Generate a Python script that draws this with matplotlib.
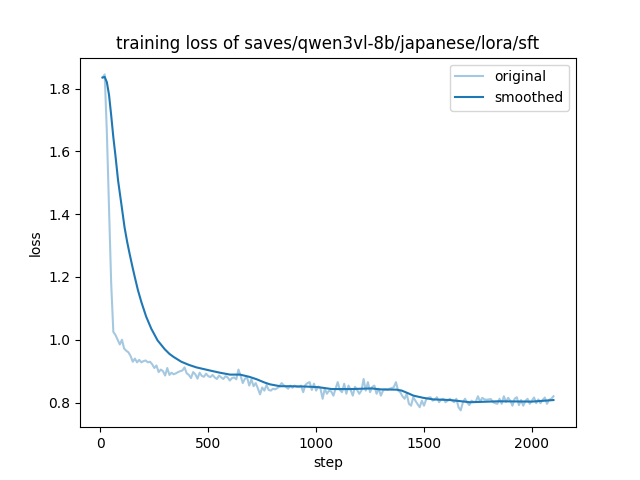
import matplotlib
matplotlib.use("Agg")
import matplotlib.pyplot as plt

title = "training loss of saves/qwen3vl-8b/japanese/lora/sft"

# logged every 10 steps
steps = list(range(10, 2110, 10))

original = [
    1.835, 1.845, 1.66, 1.42, 1.18, 1.025, 1.015, 1.00, 0.985, 1.00,
    0.972, 0.965, 0.96, 0.948, 0.93, 0.94, 0.928, 0.936, 0.928, 0.932,
    0.934, 0.928, 0.93, 0.922, 0.91, 0.918, 0.897, 0.905, 0.9, 0.886,
    0.91, 0.888, 0.895, 0.89, 0.893, 0.897, 0.9, 0.902, 0.912, 0.893,
    0.888, 0.878, 0.897, 0.89, 0.876, 0.895, 0.885, 0.882, 0.892, 0.884,
    0.881, 0.888, 0.88, 0.875, 0.886, 0.88, 0.875, 0.884, 0.88, 0.87,
    0.878, 0.88, 0.874, 0.905, 0.885, 0.862, 0.876, 0.88, 0.854, 0.874,
    0.852, 0.862, 0.845, 0.826, 0.848, 0.838, 0.856, 0.84, 0.838, 0.844,
    0.842, 0.846, 0.852, 0.862, 0.855, 0.85, 0.844, 0.854, 0.847, 0.854,
    0.85, 0.849, 0.854, 0.833, 0.856, 0.862, 0.865, 0.84, 0.86, 0.838,
    0.851, 0.845, 0.812, 0.844, 0.828, 0.838, 0.835, 0.822, 0.844, 0.865,
    0.84, 0.833, 0.86, 0.828, 0.854, 0.84, 0.822, 0.85, 0.84, 0.828,
    0.838, 0.875, 0.838, 0.865, 0.833, 0.85, 0.854, 0.828, 0.844, 0.822,
    0.838, 0.842, 0.84, 0.844, 0.846, 0.849, 0.865, 0.838, 0.833, 0.82,
    0.812, 0.828, 0.796, 0.79, 0.817, 0.806, 0.795, 0.785, 0.806, 0.79,
    0.81, 0.815, 0.817, 0.806, 0.81, 0.817, 0.801, 0.81, 0.812, 0.801,
    0.806, 0.812, 0.806, 0.801, 0.812, 0.785, 0.775, 0.8, 0.812, 0.8,
    0.792, 0.806, 0.802, 0.803, 0.82, 0.803, 0.815, 0.81, 0.809, 0.81,
    0.811, 0.801, 0.798, 0.796, 0.812, 0.796, 0.82, 0.802, 0.815, 0.806,
    0.79, 0.812, 0.817, 0.792, 0.808, 0.79, 0.805, 0.812, 0.796, 0.806,
    0.816, 0.798, 0.81, 0.798, 0.808, 0.816, 0.796, 0.809, 0.812, 0.82,
]

# smoothed curve at these steps
smooth_steps = [10, 20, 30, 40, 50, 60, 70, 82, 97, 112, 124, 136, 148, 159,
                174, 190, 212, 236, 265, 298, 320, 340, 375, 410, 445, 508,
                554, 601, 647, 690, 725, 760, 786, 833, 879, 950, 1010, 1072,
                1165, 1258, 1296, 1374, 1397, 1425, 1451, 1497, 1543, 1621,
                1713, 1845, 2000, 2100]
smoothed = [1.835, 1.837, 1.82, 1.78, 1.715, 1.645, 1.585, 1.507, 1.433, 1.358,
            1.312, 1.272, 1.234, 1.201, 1.158, 1.12, 1.074, 1.035, 0.998,
            0.97, 0.955, 0.945, 0.93, 0.92, 0.912, 0.902, 0.895, 0.889, 0.889,
            0.882, 0.874, 0.864, 0.858, 0.852, 0.852, 0.851, 0.849, 0.843,
            0.843, 0.845, 0.842, 0.841, 0.838, 0.83, 0.822, 0.815, 0.81,
            0.808, 0.801, 0.804, 0.803, 0.808]

fig = plt.figure(figsize=(6.4, 4.8), dpi=100)
plt.plot(steps, original, color="#1f77b4", alpha=0.4, label="original")
plt.plot(smooth_steps, smoothed, color="#1f77b4", label="smoothed")
plt.title(title)
plt.xlabel("step")
plt.ylabel("loss")
plt.legend()
plt.savefig("out.png", dpi=100)
